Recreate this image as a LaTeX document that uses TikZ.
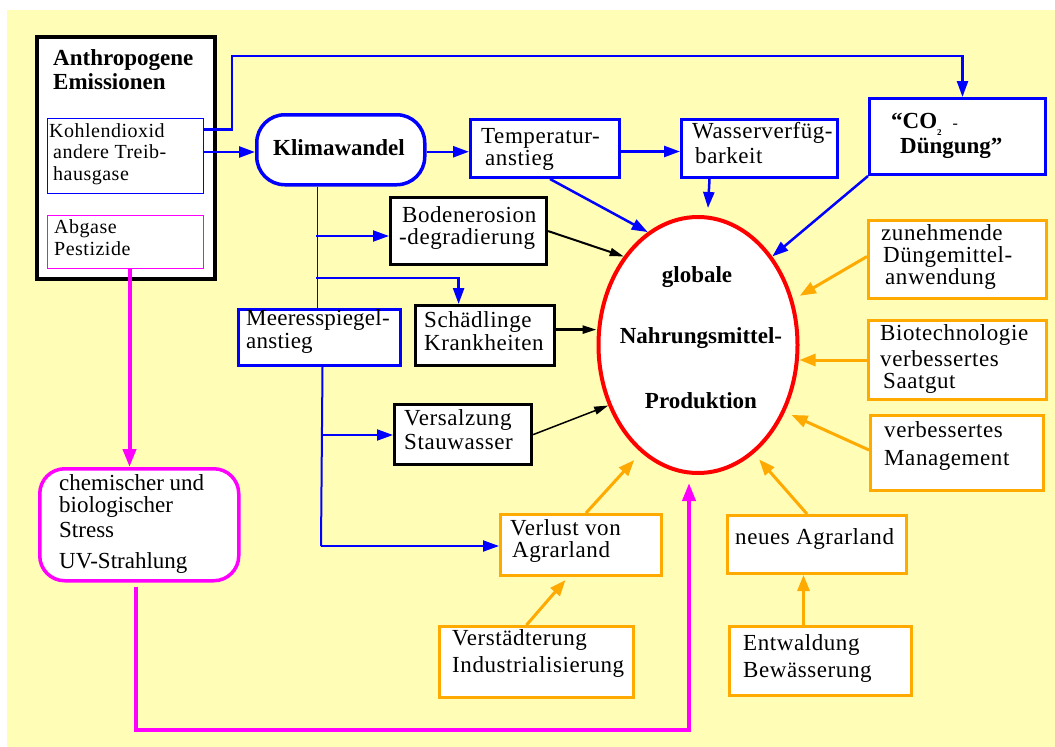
\documentclass[tikz,border=0pt]{standalone}
\usepackage{fontspec}
\setmainfont{Liberation Serif}
\newfontfamily\regf{Liberation Serif}[LetterSpace=2.5]
\newfontfamily\regn{Liberation Serif}[LetterSpace=1.0]
\usetikzlibrary{arrows.meta,shapes.geometric}

\definecolor{bgyellow}{RGB}{255,253,182}
\definecolor{myblue}{RGB}{0,0,255}
\definecolor{mymag}{RGB}{255,0,255}
\definecolor{myorange}{RGB}{255,170,0}
\definecolor{myred}{RGB}{255,0,0}

% multi-line text block: size, line distance, lines
\newcommand\txl[3]{{\fontsize{#1}{#2}\selectfont\begin{tabular}[t]{@{}l@{}}#3\end{tabular}}}
% box by its corners: name, style, x0, y0, x1, y1
\newcommand\boxnode[6]{\node[#2, anchor=north west, minimum width=#5pt-#3pt, minimum height=#6pt-#4pt] (#1) at (#3,#4) {};}

\begin{document}
\begin{tikzpicture}[x=1pt,y=-1pt,
  bbox/.style={draw=black, line width=3.2pt, fill=white, inner sep=0pt},
  ubox/.style={draw=myblue, line width=3pt, fill=white, inner sep=0pt},
  obox/.style={draw=myorange, line width=3pt, fill=white, inner sep=0pt},
  thinb/.style={draw=myblue, line width=1pt, fill=white, inner sep=0pt},
  thinm/.style={draw=mymag, line width=1pt, fill=white, inner sep=0pt},
  mbox/.style={draw=mymag, line width=3.5pt, fill=white, inner sep=0pt, rounded corners=25pt},
  kbox/.style={draw=myblue, line width=3.5pt, fill=white, inner sep=0pt, rounded corners=28pt},
  tx/.style={inner sep=0pt, anchor=base west, font=\regf},
  tm/.style={inner sep=0pt, anchor=base west, font=\regn},
  tn/.style={inner sep=0pt, anchor=base west, font=\rmfamily},
  tb/.style={inner sep=0pt, anchor=base west, font=\bfseries\fontsize{23}{24}\selectfont},
  tc/.style={inner sep=0pt, anchor=base, font=\bfseries\fontsize{23}{24}\selectfont},
  bl/.style={draw=myblue, line width=2.5pt, -{Triangle[length=16pt,width=11pt]}},
  blmid/.style={draw=myblue, line width=2pt},
  blthin/.style={draw=myblue, line width=1.2pt},
  bk/.style={draw=black, line width=2pt, -{Triangle[length=14pt,width=8pt]}},
  og/.style={draw=myorange, line width=3pt, -{Triangle[length=16pt,width=12pt]}},
  mg/.style={draw=mymag, line width=4pt, -{Triangle[length=18pt,width=13pt]}}
]
\useasboundingbox (0,0) rectangle (1055,747);
\fill[white] (0,0) rectangle (1055,747);
\fill[bgyellow] (7,10) rectangle (1055,747);

% ---- boxes ----
\boxnode{anth}{bbox, line width=3.5pt}{35}{35}{213}{277}
\boxnode{koh}{thinb}{47}{118}{203}{193}
\boxnode{abg}{thinm}{47}{215}{203}{268}
\boxnode{klima}{kbox}{255}{113}{423}{183}
\boxnode{temp}{ubox}{469}{118}{618}{176}
\boxnode{wasser}{ubox}{680}{118}{836}{176}
\boxnode{co2}{ubox}{868}{97}{1044}{173}
\boxnode{boden}{bbox}{389}{196}{545}{263}
\boxnode{schaed}{bbox}{414}{304}{553}{364}
\boxnode{meer}{ubox}{237}{308}{399}{364}
\boxnode{versalz}{bbox}{393}{403}{530}{463}
\boxnode{verlust}{obox}{499}{513}{660}{574}
\boxnode{verst}{obox}{438}{625}{632}{696}
\boxnode{chem}{mbox}{38}{467}{237}{579}
\boxnode{zun}{obox}{867}{219}{1045}{297}
\boxnode{bio}{obox}{867}{319}{1045}{398}
\boxnode{mgmt}{obox}{869}{414}{1042}{489}
\boxnode{neu}{obox}{726}{514}{905}{572}
\boxnode{entw}{obox}{728}{625}{910}{694}
\node[ellipse, draw=myred, line width=4pt, fill=white, inner sep=0pt,
      minimum width=199pt, minimum height=256pt] (ell) at (698,345) {};

% ---- texts ----
\node[tb] (t-anth) at (53,65) {\txl{23}{24}{Anthropogene\\Emissionen}};
\node[tx] (t-koh) at (49,137) {\txl{20}{21.5}{Kohlendioxid\\\hspace{4pt}andere Treib-\\\hspace{4pt}hausgase}};
\node[tx] (t-abg) at (54,233) {\txl{20}{22}{Abgase\\Pestizide}};
\node[tc] (t-klima) at (339,155) {Klimawandel};
\node[tx] (t-temp) at (481,143) {\txl{23}{22}{Temperatur-\\\hspace{4pt}anstieg}};
\node[tx] (t-wasser) at (692,138) {\txl{23}{25}{Wasserverfüg-\\\hspace{3pt}barkeit}};
\node[tb] (t-co2a) at (891,128) {“CO\raisebox{-7pt}{\fontsize{9}{9}\selectfont 2}\hspace{11pt}{\mdseries\fontsize{16}{16}\selectfont -}};
\node[tb] (t-co2b) at (900,153) {Düngung”};
\node[tx] (t-boden) at (399,222) {\txl{23}{21}{\hspace{3pt}Bodenerosion\\-degradierung}};
\node[tx] (t-schaed) at (424,327) {\txl{23}{23}{Schädlinge\\Krankheiten}};
\node[tm] (t-meer) at (246,325) {\txl{23}{23}{Meeresspiegel-\\anstieg}};
\node[tx] (t-versalz) at (404,425) {\txl{23}{24}{Versalzung\\Stauwasser}};
\node[tx] (t-verlust) at (510,535) {\txl{23}{22}{Verlust von\\\hspace{2pt}Agrarland}};
\node[tx] (t-verst) at (452,645) {\txl{23}{27}{Verstädterung\\Industrialisierung}};
\node[tn] (t-chem) at (59,490) {\txl{23}{21}{chemischer und\\biologischer\\[4pt]Stress\\[8pt]UV-Strahlung}};
\node[tx] (t-zun) at (881,240) {\txl{23}{21.5}{zunehmende\\\hspace{2pt}Düngemittel-\\\hspace{4pt}anwendung}};
\node[tx] (t-bio) at (880,340) {\txl{23}{20}{Biotechnologie\\[5pt]verbessertes\\\hspace{3pt}Saatgut}};
\node[tx] (t-mgmt) at (884,437) {\txl{23}{28}{verbessertes\\Management}};
\node[tx] (t-neu) at (735,544) {\fontsize{23}{24}\selectfont neues Agrarland};
\node[tx] (t-entw) at (743,650) {\txl{23}{27}{Entwaldung\\Bewässerung}};
\node[tc] (t-glob) at (697,282) {globale};
\node[tc] (t-nahr) at (701,343) {Nahrungsmittel-};
\node[tc] (t-prod) at (701,408) {Produktion};

% ---- bend points ----
\coordinate (topbend) at (232,56);
\coordinate (kb1) at (316,236);
\coordinate (kb2) at (316,278);
\coordinate (mb1) at (321,435);
\coordinate (mb2) at (321,546);
\coordinate (mgbend) at (689,730);

% ---- blue connectors ----
\draw[bl] ([yshift=4pt]koh.east) -- ([yshift=4pt]koh.east -| klima.west);
\draw[bl] ([yshift=26.5pt]koh.east) -| (topbend) -| ([xshift=5pt]co2.north);
\draw[bl] ([yshift=-2pt]klima.east) -- ([yshift=-2pt]klima.east -| temp.west);
\draw[bl] ([yshift=-3pt]temp.east) -- ([yshift=-3pt]temp.east -| wasser.west);
\draw[bl] ([xshift=-50pt]wasser.south) -- ([xshift=10pt,yshift=7pt]ell.north);
\draw[bl] ([xshift=5pt]temp.south) -- (ell.114);
\draw[bl] (co2.south west) -- (ell.50);

\draw[blthin] ([xshift=-23pt]klima.south) -- ([xshift=-23pt]klima.south |- meer.north);
\draw[blmid, -{Triangle[length=16pt,width=11pt]}] (kb1) -- (kb1 -| boden.west);
\draw[bl] (kb2) -| ([xshift=-26.5pt]schaed.north);
\draw[blmid] ([xshift=3pt]meer.south) -- (mb2);
\draw[blmid, -{Triangle[length=16pt,width=11pt]}] (mb1) -- (mb1 -| versalz.west);
\draw[blmid, -{Triangle[length=16pt,width=11pt]}] (mb2) -- (mb2 -| verlust.west);

% ---- black connectors ----
\draw[bk] (boden.east) -- (ell.130);
\draw[bk, line width=2.5pt] ([yshift=6pt]schaed.east) -- ([yshift=6pt]schaed.east -| ell.west);
\draw[bk, line width=1.5pt] (versalz.east) -- (ell.214);

% ---- orange connectors ----
\draw[og] ([xshift=5pt]verlust.north) -- ([xshift=-5pt,yshift=-9pt]ell.241);
\draw[og] ([xshift=-10pt]verst.north) -- ([xshift=-15.5pt,yshift=-3pt]verlust.south);
\draw[og] ([xshift=-10pt]neu.north) -- ([xshift=4pt,yshift=-7pt]ell.298);
\draw[og] ([xshift=-17pt]entw.north) -- ([xshift=-17pt]entw.north |- neu.south);
\draw[og] ([yshift=3pt]mgmt.west) -- ([xshift=6pt,yshift=-4pt]ell.323);
\draw[og] (bio.west) -- (bio.west -| ell.east);
\draw[og] ([yshift=3pt]zun.west) -- ([xshift=7pt,yshift=3pt]ell.26);

% ---- magenta connectors ----
\draw[mg] ([xshift=4pt]abg.south) -- ([xshift=4pt]abg.south |- chem.north);
\draw[mg] ([xshift=-3.5pt,yshift=-4pt]chem.south) |- (mgbend) -- ([xshift=-9pt,yshift=-8pt]ell.south);
\end{tikzpicture}
\end{document}
